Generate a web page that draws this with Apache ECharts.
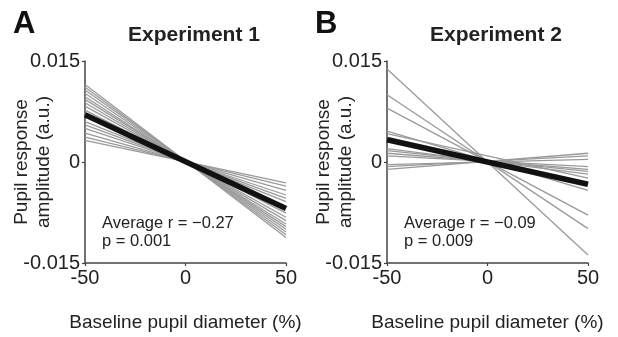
<!DOCTYPE html>
<html>
<head>
<meta charset="utf-8">
<script src="https://cdn.jsdelivr.net/npm/echarts@6/dist/echarts.min.js"></script>
<style>
  html, body { margin: 0; padding: 0; background: #fff; }
  #chart { width: 618px; height: 337px; }
</style>
</head>
<body>
<div id="chart"></div>
<script>
// Per-subject fitted regression lines, given by their values at the two ends of the x range
const xEnds = [-50, 50];

// Experiment 1: individual subjects
const exp1SubjectsLeft  = [0.0115, 0.0111, 0.0107, 0.0102, 0.0097, 0.0093, 0.0088, 0.0083, 0.0077, 0.0060, 0.0055, 0.0050, 0.0043, 0.0037, 0.0032];
const exp1SubjectsRight = [-0.0112, -0.0108, -0.0104, -0.0100, -0.0096, -0.0092, -0.0087, -0.0082, -0.0076, -0.0059, -0.0054, -0.0049, -0.0042, -0.0036, -0.0031];
// Experiment 1: group average line
const exp1AverageEnds = [0.0070, -0.0069];

// Experiment 2: individual subjects
const exp2SubjectsLeft  = [0.0138, 0.0100, 0.0080, 0.0046, 0.0042, 0.0037, 0.0020, 0.0017, 0.0013, 0.0009, -0.0004, -0.0007, -0.0011];
const exp2SubjectsRight = [-0.0138, -0.0099, -0.0079, -0.0042, -0.0024, -0.0032, -0.0018, -0.0014, -0.0011, -0.0007, 0.0004, 0.0009, 0.0013];
// Experiment 2: group average line
const exp2AverageEnds = [0.0033, -0.0033];

// Axis ticks and labels
const yTicks = [-0.015, 0, 0.015];
const yTickLabels = ['-0.015', '0', '0.015'];
const xTicks = [-50, 0, 50];
const xTickLabels = ['-50', '0', '50'];

const panelTitles = ['Experiment 1', 'Experiment 2'];
const panelLetters = ['A', 'B'];
const statLines = [
  ['Average r = \u22120.27', 'p = 0.001'],
  ['Average r = \u22120.09', 'p = 0.009']
];
const xAxisName = 'Baseline pupil diameter (%)';
const yAxisName = 'Pupil response\namplitude (a.u.)';

const FONT = '"Liberation Sans", Arial, Helvetica, sans-serif';
const AXIS_COLOR = '#444';
const TEXT_COLOR = '#222';

const grids = [
  { left: 85, top: 61, width: 201, height: 202, outerBoundsMode: 'none', containLabel: false },
  { left: 387, top: 61, width: 201, height: 202, outerBoundsMode: 'none', containLabel: false }
];

function yLabel(v) {
  const i = yTicks.findIndex(t => Math.abs(t - v) < 1e-9);
  return i >= 0 ? yTickLabels[i] : '';
}
function xLabel(v) {
  const i = xTicks.findIndex(t => Math.abs(t - v) < 1e-9);
  return i >= 0 ? xTickLabels[i] : '';
}

const xAxes = grids.map((g, i) => ({
  type: 'value', gridIndex: i, min: -50, max: 50, interval: 50,
  name: xAxisName, nameLocation: 'middle', nameGap: 50, nameMoveOverlap: false,
  nameTextStyle: { fontFamily: FONT, fontSize: 19, color: TEXT_COLOR },
  axisLine: { show: true, onZero: false, lineStyle: { color: AXIS_COLOR, width: 1.5 } },
  axisTick: { show: true, length: 3, lineStyle: { color: AXIS_COLOR, width: 1.2 } },
  axisLabel: { fontFamily: FONT, fontSize: 20, color: TEXT_COLOR, margin: 5, formatter: xLabel },
  splitLine: { show: false }
}));

const yAxes = grids.map((g, i) => ({
  type: 'value', gridIndex: i, min: -0.015, max: 0.015, interval: 0.015,
  name: yAxisName, nameLocation: 'middle', nameGap: 30, nameMoveOverlap: false,
  nameTextStyle: { fontFamily: FONT, fontSize: 19, color: TEXT_COLOR, lineHeight: 22 },
  axisLine: { show: true, onZero: false, lineStyle: { color: AXIS_COLOR, width: 1.5 } },
  axisTick: { show: true, length: 3, lineStyle: { color: AXIS_COLOR, width: 1.2 } },
  axisLabel: { fontFamily: FONT, fontSize: 20, color: TEXT_COLOR, margin: 5, formatter: yLabel },
  splitLine: { show: false }
}));

const series = [];
function addPanel(idx, lefts, rights, avg) {
  lefts.forEach((l, k) => {
    series.push({
      type: 'line', xAxisIndex: idx, yAxisIndex: idx, symbol: 'none', silent: true,
      data: [[xEnds[0], l], [xEnds[1], rights[k]]],
      lineStyle: { color: '#9a9a9a', width: 1.3 }, z: 2
    });
  });
  series.push({
    type: 'line', xAxisIndex: idx, yAxisIndex: idx, symbol: 'none', silent: true,
    data: [[xEnds[0], avg[0]], [xEnds[1], avg[1]]],
    lineStyle: { color: '#111', width: 5.5 }, z: 3
  });
}
addPanel(0, exp1SubjectsLeft, exp1SubjectsRight, exp1AverageEnds);
addPanel(1, exp2SubjectsLeft, exp2SubjectsRight, exp2AverageEnds);

const graphics = [];
grids.forEach((g, i) => {
  graphics.push({
    type: 'text', x: g.left - 72, y: 24,
    style: { text: panelLetters[i], font: 'bold 31px ' + FONT, fill: '#111', textVerticalAlign: 'middle' }
  });
  graphics.push({
    type: 'text', x: g.left + 109, y: 35,
    style: { text: panelTitles[i], font: 'bold 21px ' + FONT, fill: TEXT_COLOR, textAlign: 'center', textVerticalAlign: 'middle' }
  });
  graphics.push({
    type: 'text', x: g.left + 17, y: 223,
    style: { text: statLines[i][0], font: '16.5px ' + FONT, fill: TEXT_COLOR, textVerticalAlign: 'middle' }
  });
  graphics.push({
    type: 'text', x: g.left + 17, y: 241,
    style: { text: statLines[i][1], font: '16.5px ' + FONT, fill: TEXT_COLOR, textVerticalAlign: 'middle' }
  });
});

const chart = echarts.init(document.getElementById('chart'), null, { renderer: 'canvas' });
chart.setOption({
  animation: false,
  backgroundColor: '#fff',
  grid: grids,
  xAxis: xAxes,
  yAxis: yAxes,
  series: series,
  graphic: graphics
});
</script>
</body>
</html>
